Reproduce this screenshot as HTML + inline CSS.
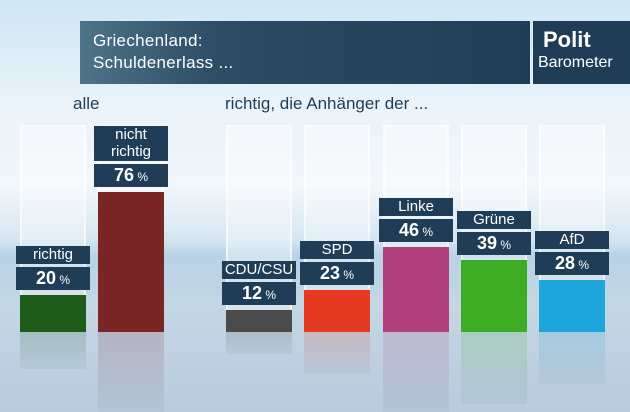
<!DOCTYPE html>
<html><head><meta charset="utf-8"><style>
body{margin:0;width:630px;height:412px;overflow:hidden;font-family:"Liberation Sans",sans-serif}
#bg{position:absolute;left:0;top:0;width:630px;height:412px;background:linear-gradient(#cfe6f4 0%,#e9f3fa 25%,#f2f7fb 45%,#d5e6f1 58%,#b8d3e5 62%,#c4d6e4 75%,#b9cbdc 100%)}
.t{position:absolute;color:#fff}
</style></head><body>
<div id="bg"></div>
<div style="position:absolute;left:80px;top:21px;width:450px;height:63px;background:linear-gradient(90deg,#4d7489 0%,#2c4d65 30%,#1f3d56 100%)">
<div class="t" style="left:13px;top:9px;font-size:17px;line-height:22px;letter-spacing:0.3px">Griechenland:<br>Schuldenerlass ...</div></div>
<div style="position:absolute;left:533px;top:21px;width:97px;height:63px;background:#1f3d56">
<div class="t" style="left:10px;top:6px;font-size:22px;font-weight:bold">Polit</div>
<div class="t" style="left:5px;top:33px;font-size:16px">Barometer</div></div>
<div class="t" style="left:73px;top:94px;color:#1f3d56;font-size:17px">alle</div>
<div class="t" style="left:225px;top:94px;color:#1f3d56;font-size:17px">richtig, die Anhänger der ...</div>
<div id="chart"></div>
<script>
const labels=["richtig","nicht richtig","CDU/CSU","SPD","Linke","Grüne","AfD"];
const values=[20,76,12,23,46,39,28];
const colors=["#1e5c1c","#7a2526","#4b4b4b","#e53a22","#b0407c","#3fac26","#1da6dc"];
const xs=[20,98,226,304,383,461,539];
const base=332,scale=1.84,w=66;
const c=document.getElementById('chart');
function y(v){return base-v*scale;}
function div(css,name){const d=document.createElement('div');d.style.cssText='position:absolute;'+css;


c.appendChild(d);return d;}
labels.forEach((l,i)=>{
 const x=xs[i],top=y(values[i]);
 div(`left:${x}px;top:125px;width:${w}px;height:${base-125}px;background:rgba(255,255,255,0.35);box-shadow:inset 0 0 0 2px rgba(255,255,255,0.6)`,'ghost-column');
 div(`left:${x}px;top:${top}px;width:${w}px;height:${base-top}px;background:${colors[i]}`,'bar-'+i);
 div(`left:${x}px;top:${base}px;width:${w}px;height:${Math.min(base-top,80)}px;background:linear-gradient(${colors[i]}40,rgba(150,170,190,0.3));opacity:0.7`,'bar-reflection');
 const bx=x-4,bw=w+8;
 const vb=div(`left:${bx}px;top:${top-28}px;width:${bw}px;height:23px;background:#1f3d56;color:#fff;text-align:center;font-size:18px;font-weight:bold;line-height:23px`,'value-label');
 vb.innerHTML=values[i]+'<span style="font-size:12px;font-weight:normal">&nbsp;%</span>';
 const lines=l==="nicht richtig"?["nicht","richtig"]:[l];
 const h=lines.length*17+1;
 const nb=div(`left:${bx}px;top:${top-31-h}px;width:${bw}px;height:${h}px;background:#1f3d56;color:#fff;text-align:center;font-size:15px;line-height:17px`,'category-label');
 nb.innerHTML=lines.join('<br>');
});
</script>
</body></html>
